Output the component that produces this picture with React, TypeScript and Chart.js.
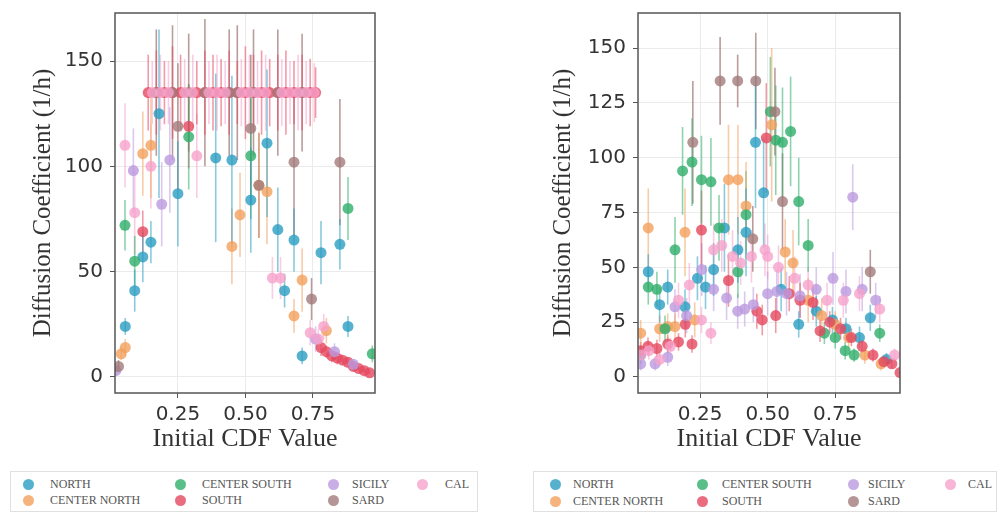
import React, { useEffect, useRef } from "react";
import { Chart, registerables } from "chart.js";

Chart.register(...registerables);

const SERIES_NAMES = ["NORTH", "CENTER NORTH", "CENTER SOUTH", "SOUTH", "SICILY", "SARD", "CAL"];
const SERIES_COLORS = ["#2a9ec0", "#f2a05e", "#2fae6a", "#e5485f", "#bc9ae0", "#a37b7b", "#f6a3cc"];

const X_TICKS = [0.25, 0.5, 0.75];
const LEFT_Y_TICKS = [0, 50, 100, 150];
const RIGHT_Y_TICKS = [0, 25, 50, 75, 100, 125, 150];
const X_TITLE = "Initial CDF Value";
const Y_TITLE = "Diffusion Coefficient (1/h)";

// ---------- LEFT PANEL ----------
const L_NORTH_X = [0.055, 0.09, 0.12, 0.15, 0.18, 0.25, 0.39, 0.45, 0.52, 0.58, 0.62, 0.645, 0.68, 0.71, 0.78, 0.85, 0.88];
const L_NORTH_Y = [24, 41, 57, 64, 125, 87, 104, 103, 84, 111, 70, 41, 65, 10, 59, 63, 24];
const L_NORTH_E = [4, 10, 12, 10, 40, 25, 40, 40, 25, 35, 20, 8, 15, 4, 15, 12, 5];

const L_CNORTH_X = [0.04, 0.055, 0.12, 0.15, 0.45, 0.48, 0.55, 0.58, 0.68, 0.71, 0.8];
const L_CNORTH_Y = [11, 14, 106, 110, 62, 77, 91, 88, 29, 46, 22];
const L_CNORTH_E = [3, 4, 20, 25, 18, 20, 25, 25, 8, 15, 6];

const L_CSOUTH_X = [0.054, 0.09, 0.29, 0.52, 0.88, 0.97];
const L_CSOUTH_Y = [72, 55, 114, 105, 80, 11];
const L_CSOUTH_E = [12, 12, 25, 30, 15, 4];

const L_SOUTH_X = [0.12, 0.14, 0.17, 0.2, 0.23, 0.26, 0.29, 0.32, 0.35, 0.38, 0.41, 0.44, 0.47, 0.5, 0.53, 0.56, 0.59, 0.62, 0.65, 0.68, 0.71, 0.74, 0.76, 0.78, 0.8, 0.82, 0.84, 0.86, 0.88, 0.9, 0.92, 0.94, 0.96];
const L_SOUTH_Y = [69, 135, 135, 135, 135, 135, 119, 135, 135, 135, 135, 135, 135, 135, 135, 135, 135, 135, 135, 135, 135, 135, 135, 14, 12, 10, 9, 8, 7, 5, 4, 3, 2];
const L_SOUTH_E = [10, 18, 20, 15, 22, 18, 20, 15, 20, 18, 16, 20, 15, 22, 18, 20, 16, 18, 20, 15, 18, 16, 12, 4, 3, 3, 3, 2, 2, 2, 1, 1, 1];

const L_SICILY_X = [0.02, 0.085, 0.19, 0.22, 0.76, 0.83, 0.9];
const L_SICILY_Y = [3, 98, 82, 103, 18, 12, 6];
const L_SICILY_E = [2, 20, 20, 25, 6, 4, 2];

const L_SARD_X = [0.03, 0.17, 0.23, 0.25, 0.29, 0.35, 0.44, 0.47, 0.52, 0.53, 0.55, 0.62, 0.68, 0.71, 0.745, 0.85];
const L_SARD_Y = [5, 135, 135, 119, 135, 135, 135, 135, 118, 135, 91, 135, 102, 135, 37, 102];
const L_SARD_E = [3, 30, 32, 30, 28, 35, 30, 32, 35, 30, 25, 30, 35, 28, 10, 30];

const L_CAL_X = [0.054, 0.09, 0.15, 0.155, 0.185, 0.215, 0.275, 0.305, 0.32, 0.365, 0.395, 0.425, 0.485, 0.515, 0.545, 0.575, 0.6, 0.63, 0.635, 0.665, 0.695, 0.725, 0.74, 0.755, 0.77, 0.79];
const L_CAL_Y = [110, 78, 100, 135, 135, 135, 135, 135, 105, 135, 135, 135, 135, 135, 135, 135, 47, 47, 135, 135, 135, 135, 21, 135, 18, 24];
const L_CAL_E = [20, 20, 20, 15, 18, 15, 16, 18, 20, 15, 18, 15, 16, 18, 15, 18, 10, 10, 16, 15, 18, 15, 6, 14, 5, 6];

// ---------- RIGHT PANEL ----------
const R_NORTH_X = [0.03, 0.058, 0.1, 0.13, 0.194, 0.24, 0.27, 0.3, 0.34, 0.39, 0.42, 0.455, 0.485, 0.55, 0.615, 0.68, 0.74, 0.79, 0.84, 0.88, 0.94];
const R_NORTH_Y = [10, 48, 33, 41, 32, 45, 41, 49, 68, 58, 66, 107, 84, 40, 24, 30, 26, 22, 18, 27, 8];
const R_NORTH_E = [4, 8, 8, 8, 8, 10, 10, 12, 20, 15, 20, 30, 25, 10, 6, 7, 6, 5, 5, 6, 3];

const R_CNORTH_X = [0.03, 0.058, 0.1, 0.13, 0.157, 0.194, 0.23, 0.355, 0.39, 0.42, 0.515, 0.565, 0.594, 0.65, 0.7, 0.75, 0.8, 0.86, 0.92];
const R_CNORTH_Y = [20, 68, 22, 23, 23, 66, 26, 90, 90, 78, 115, 57, 52, 35, 28, 24, 18, 10, 6];
const R_CNORTH_E = [6, 18, 6, 6, 6, 20, 8, 25, 25, 20, 35, 15, 15, 10, 8, 6, 5, 4, 3];

const R_CSOUTH_X = [0.058, 0.09, 0.12, 0.157, 0.185, 0.22, 0.255, 0.29, 0.32, 0.39, 0.42, 0.51, 0.53, 0.555, 0.585, 0.615, 0.65, 0.71, 0.75, 0.787, 0.82, 0.915];
const R_CSOUTH_Y = [41, 40, 22, 58, 94, 98, 90, 89, 68, 48, 74, 121, 108, 107, 112, 80, 60, 20, 18, 12, 10, 20];
const R_CSOUTH_E = [8, 8, 6, 15, 20, 20, 20, 20, 15, 12, 20, 25, 25, 25, 25, 20, 12, 5, 5, 4, 3, 4];

const R_SOUTH_X = [0.03, 0.057, 0.09, 0.13, 0.17, 0.195, 0.22, 0.255, 0.355, 0.46, 0.48, 0.495, 0.53, 0.58, 0.62, 0.668, 0.694, 0.73, 0.77, 0.81, 0.85, 0.89, 0.93, 0.96, 0.99];
const R_SOUTH_Y = [12, 14, 13, 15, 16, 24, 15, 67, 44, 30, 26, 109, 28, 38, 35, 34, 21, 25, 22, 18, 14, 10, 7, 6, 2];
const R_SOUTH_E = [4, 4, 4, 4, 4, 6, 4, 18, 12, 8, 7, 25, 8, 8, 8, 8, 5, 5, 5, 4, 3, 3, 2, 2, 1];

const R_SICILY_X = [0.03, 0.083, 0.13, 0.157, 0.2, 0.256, 0.3, 0.348, 0.389, 0.415, 0.447, 0.5, 0.534, 0.57, 0.62, 0.68, 0.742, 0.79, 0.815, 0.85, 0.9];
const R_SICILY_Y = [6, 6, 9, 32, 28, 49, 40, 36, 30, 31, 33, 38, 39, 38, 37, 40, 45, 39, 82, 40, 35];
const R_SICILY_E = [3, 3, 4, 8, 8, 12, 10, 10, 8, 8, 8, 10, 10, 10, 10, 10, 12, 10, 15, 10, 8];

const R_SARD_X = [0.223, 0.324, 0.389, 0.445, 0.456, 0.527, 0.555, 0.88];
const R_SARD_Y = [107, 135, 135, 63, 135, 121, 80, 48];
const R_SARD_E = [28, 20, 12, 15, 22, 20, 22, 10];

const R_CAL_X = [0.03, 0.06, 0.1, 0.14, 0.17, 0.21, 0.255, 0.29, 0.3, 0.33, 0.37, 0.4, 0.44, 0.49, 0.5, 0.54, 0.6, 0.65, 0.72, 0.78, 0.84, 0.915, 0.97];
const R_CAL_Y = [10, 12, 8, 14, 35, 42, 26, 20, 58, 60, 55, 52, 55, 58, 55, 50, 45, 42, 35, 35, 38, 31, 10];
const R_CAL_E = [4, 4, 3, 4, 8, 10, 6, 5, 12, 12, 12, 10, 12, 12, 10, 10, 10, 8, 8, 8, 8, 6, 3];

const LEFT_SERIES = [
  [L_NORTH_X, L_NORTH_Y, L_NORTH_E],
  [L_CNORTH_X, L_CNORTH_Y, L_CNORTH_E],
  [L_CSOUTH_X, L_CSOUTH_Y, L_CSOUTH_E],
  [L_SOUTH_X, L_SOUTH_Y, L_SOUTH_E],
  [L_SICILY_X, L_SICILY_Y, L_SICILY_E],
  [L_SARD_X, L_SARD_Y, L_SARD_E],
  [L_CAL_X, L_CAL_Y, L_CAL_E],
];
const RIGHT_SERIES = [
  [R_NORTH_X, R_NORTH_Y, R_NORTH_E],
  [R_CNORTH_X, R_CNORTH_Y, R_CNORTH_E],
  [R_CSOUTH_X, R_CSOUTH_Y, R_CSOUTH_E],
  [R_SOUTH_X, R_SOUTH_Y, R_SOUTH_E],
  [R_SICILY_X, R_SICILY_Y, R_SICILY_E],
  [R_SARD_X, R_SARD_Y, R_SARD_E],
  [R_CAL_X, R_CAL_Y, R_CAL_E],
];

const SERIF = "'Liberation Serif', 'Times New Roman', serif";
const SANS = "'DejaVu Sans', sans-serif";

function hexA(hex: string, a: number) {
  const n = parseInt(hex.slice(1), 16);
  return `rgba(${(n >> 16) & 255},${(n >> 8) & 255},${n & 255},${a})`;
}

const errorBarPlugin = {
  id: "errorBars",
  beforeDatasetsDraw(chart: any) {
    const { ctx, chartArea } = chart;
    const xs = chart.scales.x;
    const ys = chart.scales.y;
    ctx.save();
    ctx.beginPath();
    ctx.rect(chartArea.left, chartArea.top, chartArea.right - chartArea.left, chartArea.bottom - chartArea.top);
    ctx.clip();
    const n = chart.data.datasets.length;
    for (let i = n - 1; i >= 0; i--) {
      const ds = chart.data.datasets[i];
      ctx.strokeStyle = ds.errorColor;
      ctx.lineWidth = 1.6;
      ds.data.forEach((p: any) => {
        const px = xs.getPixelForValue(p.x);
        ctx.beginPath();
        ctx.moveTo(px, ys.getPixelForValue(p.y - p.e));
        ctx.lineTo(px, ys.getPixelForValue(p.y + p.e));
        ctx.stroke();
      });
    }
    ctx.restore();
  },
};

const framePlugin = {
  id: "frame",
  afterDraw(chart: any) {
    const { ctx, chartArea } = chart;
    ctx.save();
    ctx.strokeStyle = "#555";
    ctx.lineWidth = 1.5;
    ctx.strokeRect(chartArea.left, chartArea.top, chartArea.right - chartArea.left, chartArea.bottom - chartArea.top);
    ctx.restore();
  },
};

function buildConfig(series: number[][][], yTicks: number[], yMin: number, yMax: number, xMin: number, xMax: number, padRight: number, yAxisWidth: number): any {
  const datasets = series.map((s, i) => ({
    label: SERIES_NAMES[i],
    data: s[0].map((x, k) => ({ x, y: s[1][k], e: s[2][k] })),
    backgroundColor: hexA(SERIES_COLORS[i], 0.8),
    borderColor: hexA(SERIES_COLORS[i], 0.9),
    borderWidth: 0,
    pointRadius: 5.5,
    errorColor: i === 5 ? hexA(SERIES_COLORS[i], 0.75) : hexA(SERIES_COLORS[i], 0.55),
    order: 6 - i,
  }));
  const tickFont = { family: SANS, size: 20 };
  return {
    type: "scatter",
    data: { datasets },
    plugins: [errorBarPlugin, framePlugin],
    options: {
      responsive: false,
      animation: false,
      events: [],
      layout: { padding: { left: 28, top: 13, right: padRight, bottom: 0 } },
      plugins: { legend: { display: false }, tooltip: { enabled: false } },
      scales: {
        x: {
          type: "linear",
          min: xMin,
          max: xMax,
          afterBuildTicks: (s: any) => {
            s.ticks = X_TICKS.map((v) => ({ value: v }));
          },
          afterFit: (s: any) => {
            s.height = 62;
            s.paddingLeft = 0;
            s.paddingRight = 0;
          },
          ticks: { font: tickFont, color: "#333", padding: 5, maxRotation: 0, callback: (v: number) => v.toFixed(2) },
          grid: { color: "#ebebeb", tickLength: 5, tickColor: "#555", lineWidth: 1 },
          border: { display: false },
          title: { display: true, text: X_TITLE, font: { family: SERIF, size: 26 }, color: "#333", padding: { top: 0, bottom: 0 } },
        },
        y: {
          type: "linear",
          min: yMin,
          max: yMax,
          afterBuildTicks: (s: any) => {
            s.ticks = yTicks.map((v) => ({ value: v }));
          },
          afterFit: (s: any) => {
            s.width = yAxisWidth;
            s.paddingTop = 0;
            s.paddingBottom = 0;
          },
          ticks: { font: tickFont, color: "#333", padding: 7, callback: (v: number) => String(v) },
          grid: { color: "#ebebeb", tickLength: 5, tickColor: "#555", lineWidth: 1 },
          border: { display: false },
          title: { display: true, text: Y_TITLE, font: { family: SERIF, size: 25 }, color: "#333", padding: { top: 0, bottom: 0 } },
        },
      },
    },
  };
}

function Legend({ left, width, markerX, textX, rowY }: { left: number; width: number; markerX: number[]; textX: number[]; rowY: number[] }) {
  return (
    <>
      <div
        style={{
          position: "absolute",
          left,
          top: 471,
          width,
          height: 41,
          border: "1px solid #e0e0e0",
          boxSizing: "border-box",
        }}
      />
      {SERIES_NAMES.map((name, i) => {
        const col = Math.floor(i / 2);
        const row = i % 2;
        return (
          <React.Fragment key={name}>
            <div
              style={{
                position: "absolute",
                left: markerX[col] - 5.5,
                top: rowY[row] - 5.5,
                width: 11,
                height: 11,
                borderRadius: "50%",
                background: hexA(SERIES_COLORS[i], 0.8),
              }}
            />
            <div
              style={{
                position: "absolute",
                left: textX[col],
                top: rowY[row] - 8,
                height: 16,
                lineHeight: "16px",
                fontFamily: SERIF,
                fontSize: 12,
                color: "#555",
                whiteSpace: "nowrap",
              }}
            >
              {name}
            </div>
          </React.Fragment>
        );
      })}
    </>
  );
}

export default function App() {
  const leftRef = useRef<HTMLCanvasElement | null>(null);
  const rightRef = useRef<HTMLCanvasElement | null>(null);

  useEffect(() => {
    document.body.style.margin = "0";
    const c1 = new Chart(leftRef.current as HTMLCanvasElement, buildConfig(LEFT_SERIES, LEFT_Y_TICKS, -7.6, 172.8, 0.017, 0.98, 125, 87));
    const c2 = new Chart(rightRef.current as HTMLCanvasElement, buildConfig(RIGHT_SERIES, RIGHT_Y_TICKS, -7.3, 166, 0.02, 0.99, 98, 90));
    return () => {
      c1.destroy();
      c2.destroy();
    };
  }, []);

  return (
    <div style={{ position: "fixed", left: 0, top: 0, width: 998, height: 513, background: "#fff", overflow: "hidden" }}>
      <canvas ref={leftRef} width={500} height={455} style={{ position: "absolute", left: 0, top: 0, width: 500, height: 455 }} />
      <canvas ref={rightRef} width={478} height={455} style={{ position: "absolute", left: 520, top: 0, width: 478, height: 455 }} />
      <Legend left={10} width={468} markerX={[28, 180, 333, 422]} textX={[50, 202, 352, 445]} rowY={[484, 500]} />
      <Legend left={533} width={464} markerX={[555, 702, 853, 950]} textX={[573, 722, 868, 968]} rowY={[484, 501]} />
    </div>
  );
}
